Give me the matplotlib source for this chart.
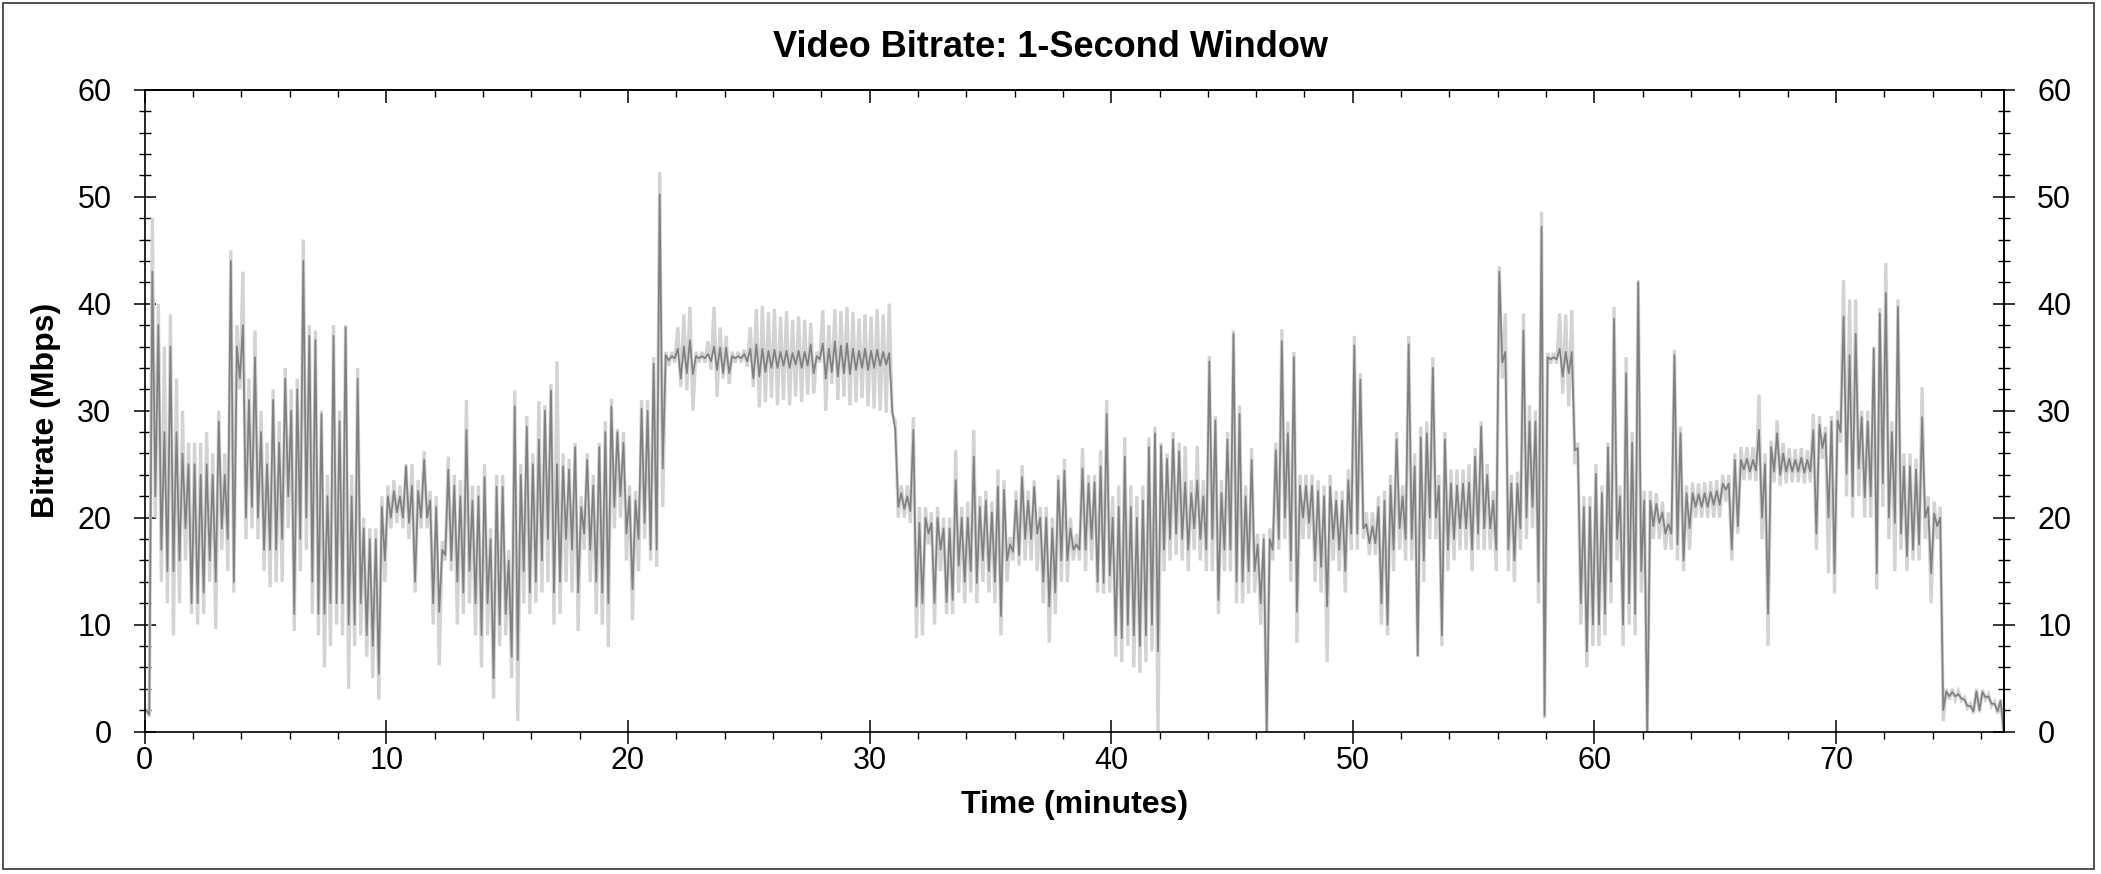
import numpy as np
import matplotlib
matplotlib.use("Agg")
import matplotlib.pyplot as plt
from matplotlib.ticker import MultipleLocator
from matplotlib.patches import Rectangle

plt.rcParams['font.family'] = ['Liberation Sans', 'DejaVu Sans']

# one value per quarter minute (bin start = index * 0.25 min)
# dark line = 1-second window bitrate, max / min inside each bin
dark_hi = [
    2, 43, 38, 28, 36, 28, 26, 25, 25, 24, 25, 24, 29, 24, 44, 36,
    38, 31, 35, 28, 25, 31, 27, 33, 30, 32, 44, 37, 36.6, 29.7, 22, 37,
    29, 37.8, 22, 33, 19, 18, 18, 21, 22, 22.5, 22, 24.8, 23, 22.5, 25.4, 21.6,
    21, 17, 24.5, 23, 22, 28.2, 21.6, 22, 23.8, 18, 22.9, 22.9, 16, 30.4, 24, 28.5,
    25, 27.3, 30, 31.9, 25, 24.8, 24.5, 26.6, 21, 25.4, 23, 26.6, 28, 30.4, 28, 27,
    22, 21.6, 30.2, 30, 34.4, 50.2, 35.2, 35.1, 35.8, 36, 36.6, 35.1, 35.1, 35.3, 36, 35.9,
    35.9, 35.1, 35.1, 35.3, 35.8, 36.2, 35.8, 35.6, 35.7, 35.5, 35.6, 35.4, 35.6, 35.5, 36.2, 35.1,
    36.3, 35.8, 36.5, 36.1, 36.3, 35.8, 35.6, 35.8, 35.6, 35.7, 35.5, 35.4, 28.2, 22.3, 22, 28.2,
    19.5, 20, 19.5, 20, 19, 19, 23.5, 20, 20, 25.7, 21, 21.6, 20.5, 22.9, 22.6, 17.5,
    21.6, 23.8, 21.6, 22.9, 20, 20, 19, 23.5, 24.4, 19, 17.5, 24.6, 23.2, 23.3, 24.8, 29.7,
    20, 21, 25.7, 21, 20, 21.6, 26.6, 27.9, 26.7, 25.5, 27.3, 26.2, 23.3, 22.3, 23.5, 22,
    34.6, 29.1, 22.3, 27.3, 37.2, 29.7, 22, 25.4, 17.5, 18, 18, 26.3, 36.5, 27.9, 35, 23,
    23, 23, 22.5, 22, 22.9, 21.6, 21.6, 23.5, 36.1, 32.9, 19.4, 19.2, 21, 21.6, 23, 27.3,
    22, 36.2, 24.8, 27.5, 27.9, 34, 23, 27.3, 23.2, 23, 23.2, 23.3, 25.7, 28.5, 24, 21.6,
    43, 35.5, 23.2, 23.2, 37.5, 29, 29, 47.2, 35, 35, 35.8, 35.5, 35.5, 26.5, 21, 21,
    24.1, 22.3, 26.6, 38.6, 22, 33.5, 27, 42, 21.6, 21.6, 21.3, 20.5, 19.4, 35.2, 27.9, 22.3,
    22.3, 22.2, 22.3, 22.4, 22.5, 23.2, 23.2, 25.4, 25.4, 25.5, 25.4, 28.2, 25, 26.6, 27.9, 26,
    25.5, 25.4, 25.6, 25.4, 28.2, 28.7, 27.9, 29, 29.1, 38.8, 35.2, 37.2, 29.4, 29, 35.8, 39.1,
    41, 28, 39.7, 24.8, 24.8, 24.5, 29.4, 21, 20.4, 20, 3.75, 3.7, 3.5, 3.0, 2.4, 3.75,
    3.7, 3.3, 2.6, 2.9,
]
dark_lo = [
    1.6, 22, 17, 15, 15, 16, 19, 12, 12, 13, 16, 14, 19, 18, 14, 33,
    20, 21, 20, 17, 17, 17, 18, 22, 11, 18, 20, 14, 11, 11, 12, 12,
    12, 10, 10, 12, 9, 8, 5.4, 16, 20, 20.5, 20, 19.5, 14, 20, 20, 12,
    11.2, 16.5, 16, 14, 13, 15, 12, 9, 12, 5, 10, 11, 7, 6.7, 15, 13,
    14, 16, 18, 13, 14, 18, 17, 13, 18.5, 17, 14, 13, 12, 21, 22, 18.5,
    13.3, 18, 19.5, 17, 17, 24.6, 34.7, 34.9, 33, 33.5, 33.4, 34.9, 34.9, 34.6, 33.8, 33.5,
    33.5, 34.9, 34.9, 34.6, 33, 33.2, 33.6, 34, 34, 34.2, 34, 34.3, 34, 34.2, 33.5, 34.8,
    33, 33.6, 33.2, 33.5, 33.4, 33.8, 34, 33.8, 34, 34.2, 34.3, 30, 21, 20.8, 20.6, 11.7,
    12, 18.5, 12, 17, 12.1, 12.3, 15.5, 14, 15, 13.9, 16, 15, 14, 10.8, 16, 16.8,
    16.5, 18, 18, 18.5, 14, 11.7, 13, 16, 16, 17, 17, 17, 18, 14, 13.9, 14.6,
    9, 8.75, 10, 9, 8, 9, 10, 7.5, 17, 18, 18.5, 18, 17, 19, 18, 17,
    18, 12.3, 17, 17, 14, 14, 15, 15, 12, 0, 17, 18, 20, 16, 11.2, 20,
    19.5, 16, 15.4, 11.7, 18, 17, 15, 18.5, 18.5, 19, 17.6, 17.6, 12, 10, 17, 19,
    18, 18, 7.1, 16, 20, 20, 9, 17, 18, 19, 19, 17, 18.5, 19, 19, 17,
    34.5, 17, 16, 19, 20, 21, 14, 1.5, 34.8, 34.8, 33.2, 33.5, 26.3, 12, 7.5, 10,
    10, 11, 14, 18, 10, 12, 11, 15, 0, 19.2, 19.5, 18.5, 18.5, 17.5, 16, 19,
    21, 21, 21, 21.2, 21.2, 22.6, 17, 19.2, 24.5, 24.3, 24.4, 20, 11, 24.3, 24, 24.3,
    24.3, 24.3, 24.2, 24.3, 18.5, 26.5, 20, 14.8, 28, 24.1, 22, 24.6, 21.9, 22, 14.8, 23.2,
    20, 19.5, 18.5, 16.4, 17, 17.5, 20, 14.8, 19.2, 2, 3.3, 3.3, 3.1, 2.4, 1.9, 2.0,
    3.2, 2.6, 1.9, 0,
]
# light band = max / min of the raw bitrate in the same bins
light_hi = [
    2, 48, 40, 36, 39, 33, 30, 27, 27, 27, 28, 26, 30, 26, 45, 38,
    43, 33, 37.5, 30, 27, 32, 29, 34, 32, 33, 46, 38, 37.5, 30, 24, 38,
    30, 38, 24, 34, 20, 19, 19, 22, 23, 23.5, 23, 25, 25, 23.5, 26.2, 22.5,
    22, 17.8, 25.7, 24, 23.5, 31, 23, 23, 25, 19, 24, 24, 17, 31.9, 25, 29.5,
    26, 30.9, 30.5, 32.5, 34.6, 26, 25.5, 27, 22, 26, 24, 27, 29, 31.1, 28.3, 28,
    23, 22.5, 31, 31, 35, 52.3, 35.5, 35.5, 37.8, 39, 39.7, 35.5, 35.5, 36.5, 39.7, 37.8,
    37, 35.5, 35.5, 35.7, 37.8, 39.5, 39.8, 39.2, 39.5, 38.8, 39.3, 38.5, 38.8, 38.5, 38.2, 35.5,
    39.4, 38, 39.5, 39.3, 39.7, 39.2, 38.6, 39, 38.8, 39.5, 39, 40, 29, 23, 23, 29.4,
    21, 21, 20.5, 21, 20, 20, 26.3, 21, 21.5, 28.2, 22, 22.5, 21.5, 24.5, 23.5, 18.2,
    22.5, 24.9, 22.5, 23.5, 21, 21, 20, 24, 25.5, 20, 18.5, 26.5, 24, 24, 26.3, 31,
    22, 23, 27.5, 23, 22, 23, 27.5, 28.5, 27, 26, 28, 27, 26.7, 23.5, 26.7, 23.5,
    35.1, 29.5, 23.5, 28, 37.5, 30.5, 23, 26.5, 18.5, 18.5, 19, 27, 37.6, 29, 35.5, 24,
    24, 24, 23.5, 23, 24, 22.5, 22.5, 24.5, 37, 33.5, 20.5, 20.5, 22, 22.5, 24, 28,
    23, 37, 26, 28.5, 29, 35, 24, 28, 24.5, 24.5, 24.5, 25, 26.5, 29, 25, 22.5,
    43.5, 39.1, 24, 24.3, 39.1, 30.5, 30, 48.6, 35.4, 35.4, 39.1, 39, 39.4, 27, 22, 22,
    25, 23, 27, 39.7, 23, 35, 28, 42.2, 22.5, 22.5, 22.3, 21.5, 20.5, 35.7, 28.5, 23,
    23.3, 23.2, 23.3, 23.4, 23.5, 24, 24, 26, 26.6, 26.6, 26.6, 31.5, 26, 27.2, 29.1, 27,
    26.5, 26.4, 26.5, 26.3, 29.7, 29.5, 28.5, 29.5, 30, 42.2, 40.4, 40.4, 30, 30, 36, 39.6,
    43.8, 29, 40.4, 26, 26, 25.5, 32.2, 22, 21.5, 21, 4, 4, 3.8, 3.2, 2.6, 4,
    3.9, 3.5, 2.8, 3,
]
light_lo = [
    1.4, 20, 14, 12, 9, 12, 16, 11, 10, 11, 14, 9.6, 17, 15, 13, 32,
    18, 19, 18, 15, 13.5, 14, 14, 19, 9.4, 15, 17, 11, 9, 6, 8, 10,
    9, 4, 8, 9, 7, 5, 3, 14, 19, 19.5, 19, 18, 13, 19, 19, 10,
    6.2, 16, 15, 10, 11, 12, 9, 6, 9, 3.1, 8, 9, 5, 1.0, 12, 11,
    12, 13, 14, 10, 11, 14, 13, 9.4, 17, 14, 11, 10, 7.9, 19, 20, 16,
    10.4, 15, 18, 16, 15.4, 21, 34.2, 34.5, 32.2, 31.9, 30, 34.5, 34.5, 33.8, 31.3, 33,
    32.5, 34.5, 34.5, 34.1, 32.2, 30.3, 30.8, 31.2, 30.5, 31, 30.5, 31.3, 30.8, 31.5, 31.6, 34.5,
    30, 32.5, 31, 31.3, 30.5, 30.8, 31.2, 30.4, 30.2, 30, 29.8, 29.7, 20, 20, 19.5, 8.75,
    9, 17.5, 10, 15, 11, 11, 13, 12, 13, 12, 14, 13, 12, 9, 14, 16,
    15.5, 16, 16, 15, 12, 8.3, 11, 14, 14, 16, 16, 15, 16, 13, 12.9, 13,
    7, 6.5, 8, 6, 5.5, 6.5, 7.5, 0, 15, 16, 16.5, 16, 15, 17, 16, 15,
    15, 11, 15, 15, 12, 12, 12.9, 13, 10, 0, 16, 17, 18, 14, 8.3, 18,
    18, 14, 13, 6.5, 16, 15, 13, 17, 17, 18, 16.5, 16.5, 10, 9, 15, 17,
    16, 16, 7, 14, 18, 18, 8, 15, 16, 17, 17, 15, 17, 17, 17, 15,
    33, 15, 14, 17, 18, 19, 12, 1.25, 34.4, 34.4, 31.6, 30.4, 25, 10, 6, 8,
    8, 9, 12, 16, 8, 10, 9, 13, 0, 18, 18, 17, 17, 16, 15, 17,
    20, 20, 20, 20, 20, 21.5, 16, 18.5, 23.5, 23.5, 23.4, 18, 8, 23.3, 23, 23.2,
    23.3, 23.3, 23.2, 23.3, 17, 25.5, 14.8, 12.9, 27, 22, 20, 22, 20, 20, 13.3, 21,
    18, 15, 17, 15, 16, 16, 18, 12, 18, 1, 3, 3, 2.9, 2.2, 1.7, 1.8,
    3, 2.4, 1.7, 0,
]

x_major = [0, 10, 20, 30, 40, 50, 60, 70]
y_major = [0, 10, 20, 30, 40, 50, 60]

bin_min = 0.25
t0 = np.arange(len(dark_hi)) * bin_min
tx = np.column_stack([t0 + bin_min / 4, t0 + 3 * bin_min / 4]).ravel()
dark = np.column_stack([dark_hi, dark_lo]).ravel()
light = np.column_stack([light_hi, light_lo]).ravel()

fig = plt.figure(figsize=(21.01, 8.74), dpi=100)
ax = fig.add_axes([0.0689, 0.1629, 0.9538 - 0.0689, 0.8973 - 0.1629])

# light band: min/max strokes, drawn wide enough to close up between samples
ax.plot(tx, light, color='#d3d3d3', lw=2.4, solid_joinstyle='miter')
ax.plot(tx, dark, color='#808080', lw=1.25)

ax.set_xlim(0, 76.95)
ax.set_ylim(0, 60)
ax.set_xticks(x_major)
ax.set_yticks(y_major)
ax.xaxis.set_minor_locator(MultipleLocator(2))
ax.yaxis.set_minor_locator(MultipleLocator(2))
for s in ax.spines.values():
    s.set_linewidth(1.2)

ax.tick_params(axis='x', which='major', direction='inout', length=17, width=1.1,
               labelsize=22, pad=2, top=False)
ax.tick_params(axis='x', which='minor', direction='out', length=5, width=1.0, top=False)
ax.tick_params(axis='y', which='major', direction='inout', length=16, width=1.1,
               labelsize=22, pad=16, right=False)
ax.tick_params(axis='y', which='minor', direction='inout', length=8.5, width=1.0, right=False)

top = ax.secondary_xaxis('top')
top.set_xticks(x_major)
top.xaxis.set_minor_locator(MultipleLocator(2))
top.tick_params(which='major', direction='in', length=9.5, width=1.1, labeltop=False)
top.tick_params(which='minor', direction='in', length=5, width=1.0)
top.spines['top'].set_linewidth(1.2)

right = ax.secondary_yaxis('right')
right.set_yticks(y_major)
right.yaxis.set_minor_locator(MultipleLocator(2))
right.tick_params(which='major', direction='inout', length=16, width=1.1,
                  labelsize=22, pad=16)
right.tick_params(which='minor', direction='inout', length=8.5, width=1.0)
right.spines['right'].set_linewidth(1.2)

ax.set_xlabel('Time (minutes)', fontsize=23, fontweight='bold', labelpad=10)
ax.set_ylabel('Bitrate (Mbps)', fontsize=23, fontweight='bold', labelpad=12)
fig.text(0.5, 0.946, 'Video Bitrate: 1-Second Window', ha='center', va='center',
         fontsize=26, fontweight='bold')

fig.patches.append(Rectangle((0.0014, 0.0057), 0.9953, 0.9909, transform=fig.transFigure,
                             fill=False, edgecolor='#444444', linewidth=1.3))

fig.savefig('out.png', dpi=100)
